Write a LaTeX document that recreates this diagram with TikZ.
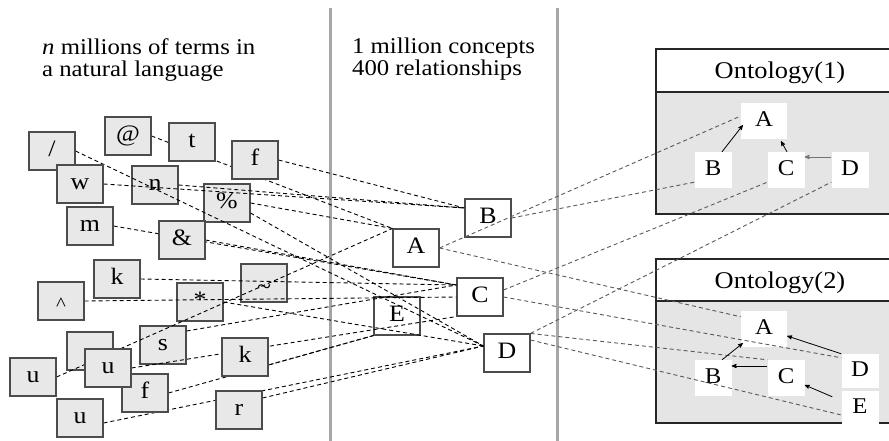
\documentclass[tikz,border=0pt]{standalone}
\usepackage{fontspec}
\setmainfont{Liberation Serif}[FakeStretch=1.1]
\usetikzlibrary{arrows}
\pgfdeclarelayer{back}
\pgfdeclarelayer{front}
\pgfsetlayers{back,main,front}

\begin{document}
\begin{tikzpicture}[x=1pt,y=-1pt,font=\fontsize{22.5}{22}\selectfont,
  term/.style={draw=black!70,fill=black!9,line width=1.1pt,minimum width=46pt,minimum height=38pt,inner sep=0pt,text height=15pt,text depth=4pt,font=\fontsize{23.5}{23}\selectfont},
  concept/.style={term,fill=white},
  onode/.style={fill=white,minimum width=37pt,minimum height=36pt,inner sep=0pt,text height=15pt,text depth=4pt},
  link/.style={dash pattern=on 4pt off 3pt,line width=0.9pt,black},
  olink/.style={link,black!65},
  rel/.style={->,>=stealth',line width=0.8pt},
  sep/.style={line width=3pt,black!35},
  onto/.style={line width=1.5pt,black!85},
  head/.style={font=\fontsize{24}{24}\selectfont}]

  \useasboundingbox (0,0) rectangle (889,441);

  \node[anchor=north west,inner sep=0pt,align=left] (terms) at (42,38) {\textit{n} millions of terms in\\a natural language};
  \node[anchor=north west,inner sep=0pt,align=left] (concepts) at (352,38) {1 million concepts\\400 relationships};

  \begin{pgfonlayer}{back}
    % columns
    \draw[sep] (330,8) -- (330,441);
    \draw[sep] (557,8) -- (557,441);

    % ontologies
    \fill[black!10] (656,92) rectangle (889,214);
    \draw[onto] (889,49) -| (656,214) -- (889,214);
    \draw[onto] (656,92) -- (889,92);
    \fill[black!10] (656,301) rectangle (889,423);
    \draw[onto] (889,259) -| (656,423) -- (889,423);
    \draw[onto] (656,301) -- (889,301);

    \node[onode,minimum width=46pt] (o1A) at (764,121) {A};
    \node[onode] (o1B) at (713,170) {B};
    \node[onode] (o1C) at (786,170) {C};
    \node[onode] (o1D) at (850,170) {D};

    \node[onode,minimum width=46pt] (o2A) at (764,329) {A};
    \node[onode] (o2B) at (713,378) {B};
    \node[onode] (o2C) at (786,378) {C};
    \node[onode,minimum height=34pt] (o2D) at (860,371) {D};
    \node[onode,minimum height=34pt] (o2E) at (860,408) {E};

    % terms under the links
    \node[term] (n) at (155,185) {n};
    \node[term] (pct) at (227,203) {\%};
    \node[term] (tld) at (264,283) {\raisebox{-6pt}{\textasciitilde}};
    \node[term] (ast) at (200,302) {*};
    \node[term] (blank) at (90,351) {};
    \node[term] (s) at (163,345) {s};

    % concepts
    \node[concept] (cB) at (488,218) {B};
    \node[concept] (cA) at (416,248) {A};
    \node[concept] (cC) at (480,297) {C};
    \node[concept] (cE) at (397,316) {E};
    \node[concept] (cD) at (507,353) {D};
  \end{pgfonlayer}

  \begin{pgfonlayer}{front}
    % terms over the links
    \node[term] (slash) at (52,151) {/};
    \node[term] (at) at (128,136) {@};
    \node[term] (t) at (192,142) {t};
    \node[term] (f1) at (255,160) {f};
    \node[term] (w) at (80,184) {w};
    \node[term] (m) at (90,226) {m};
    \node[term] (amp) at (182,240) {\&};
    \node[term] (k1) at (117,279) {k};
    \node[term] (hat) at (61,301) {\raisebox{-4pt}{\fontsize{19}{19}\selectfont\textasciicircum}};
    \node[term] (k2) at (245,357) {k};
    \node[term] (f2) at (145,393) {f};
    \node[term] (u2) at (108,368) {u};
    \node[term] (u1) at (33,377) {u};
    \node[term] (u3) at (80,418) {u};
    \node[term] (r) at (239,410) {r};
  \end{pgfonlayer}

  \node[head] (h1) at (780,73) {Ontology(1)};
  \node[head] (h2) at (780,283) {Ontology(2)};

  \path[link]
  (at.east) edge (cA.north west)
  (f1.east) edge ([yshift=10pt]cB.west)
  (w.east) edge ([yshift=10pt]cB.west)
  (n.east) edge ([yshift=10pt]cB.west)
  (pct.east) edge (cA.north west)
  ([yshift=-10pt]pct.east) edge ([yshift=7pt]cD.west)
  (slash.east) edge ([yshift=7pt]cD.west)
  (m.east) edge ([yshift=12pt]cC.west)
  (amp.east) edge ([yshift=12pt]cC.west)
  (k1.east) edge ([yshift=12pt]cC.west)
  (hat.east) edge (cC.west)
  ([yshift=14pt]s.east) edge ([yshift=12pt]cC.west)
  (ast.east) edge ([yshift=7pt]cD.west)
  (u1.east) edge (cA.north west)
  (u2.east) edge (cC.south west)
  (f2.east) edge (cE.south west)
  ([yshift=-8pt]k2.east) edge (cE.south west)
  ([yshift=-5pt]u3.east) edge ([yshift=7pt]cD.west)
  ([yshift=12pt]r.east) edge ([yshift=7pt]cD.west);

  \path[olink]
  (cA.east) edge ([yshift=5pt]o1A.west)
  (cA.east) edge ([yshift=-6pt]o2A.north west)
  (cB.east) edge ([yshift=6pt]o1B.south west)
  ([yshift=7pt]cC.east) edge ([yshift=6pt]o1C.south west)
  (cD.north east) edge ([yshift=6pt]o1D.south west)
  (cC.east) edge ([yshift=-4pt]o2D.north west)
  (cD.north east) edge (o2C.north west)
  ([yshift=13pt]cD.east) edge ([yshift=-7pt]o2E.west);

  \path[rel]
  ([xshift=9pt]o1B.north) edge ([xshift=2pt,yshift=14pt]o1A.south west)
  ([xshift=1pt]o1C.north) edge ([xshift=17pt,yshift=-2pt]o1A.south)
  ([xshift=9pt]o2B.north) edge ([xshift=2pt,yshift=4pt]o2A.south west)
  ([yshift=12pt]o2C.west) edge ([yshift=12pt]o2B.east)
  (o2D.north west) edge ([yshift=-7pt]o2A.east)
  ([xshift=-9pt,yshift=-6pt]o2E.north west) edge ([yshift=-7pt]o2C.east);
  \draw[rel,black!55] ([yshift=13pt]o1D.west) -- ([yshift=13pt]o1C.east);
\end{tikzpicture}
\end{document}
